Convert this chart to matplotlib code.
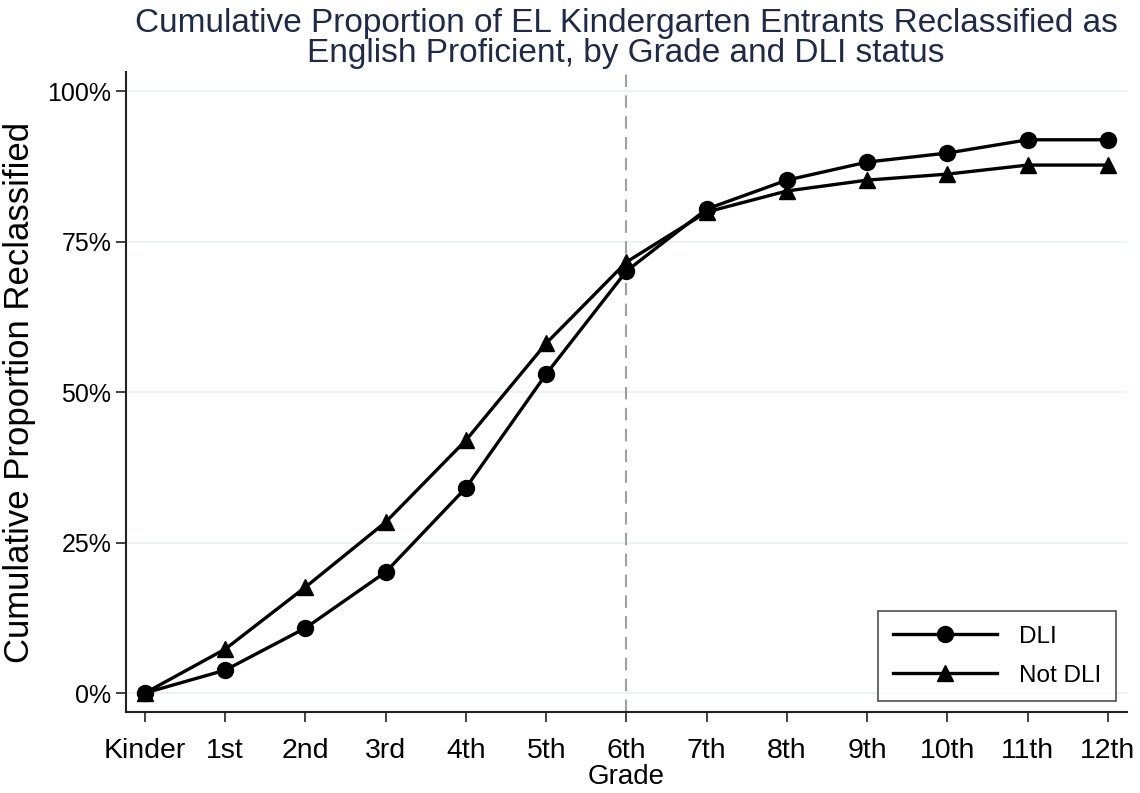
import matplotlib
matplotlib.use("Agg")
import matplotlib.pyplot as plt
from matplotlib.ticker import FuncFormatter

grades = ["Kinder", "1st", "2nd", "3rd", "4th", "5th", "6th", "7th", "8th", "9th", "10th", "11th", "12th"]
dli = [0.0, 3.8, 10.8, 20.1, 34.1, 53.0, 70.1, 80.4, 85.2, 88.2, 89.7, 91.9, 91.9]
not_dli = [0.0, 7.3, 17.6, 28.4, 42.0, 58.1, 71.6, 79.9, 83.4, 85.2, 86.2, 87.7, 87.7]
yticks = [0, 25, 50, 75, 100]

plt.rcParams['font.family'] = ['Liberation Sans', 'DejaVu Sans']

fig = plt.figure(figsize=(11.4, 7.93), dpi=100)
ax = fig.add_axes([0.1105, 0.1021, 0.8781, 0.8071])

x = list(range(len(grades)))
for yv in yticks:
    ax.axhline(yv, color="#eaf0f0", lw=1.2, zorder=0)
ax.axvline(6, color="#a0a0a0", lw=1.5, ls=(0, (6, 4)), zorder=1)

ax.plot(x, dli, color="black", lw=2.4, marker="o", markersize=11.5, label="DLI", zorder=3)
ax.plot(x, not_dli, color="black", lw=2.4, marker="^", markersize=12, label="Not DLI", zorder=3)

ax.set_xlim(-0.237, 12.237)
ax.set_ylim(-3.16, 103.16)
ax.set_xticks(x)
ax.set_xticklabels(grades, fontsize=20.5)
ax.set_yticks(yticks)
ax.yaxis.set_major_formatter(FuncFormatter(lambda v, p: f"{int(v)}%"))
ax.tick_params(axis="y", labelsize=18, length=7, width=1.3, color="#333333")
ax.tick_params(axis="x", length=7, width=1.3, color="#333333", pad=12)

for s in ["top", "right"]:
    ax.spines[s].set_visible(False)
for s in ["left", "bottom"]:
    ax.spines[s].set_linewidth(1.5)
    ax.spines[s].set_color("#222222")

ax.set_xlabel("Grade", fontsize=20, labelpad=0)
ax.set_ylabel("Cumulative Proportion Reclassified", fontsize=25, labelpad=8)

fig.text(626 / 1140, 0.99,
         "Cumulative Proportion of EL Kindergarten Entrants Reclassified as\nEnglish Proficient, by Grade and DLI status",
         fontsize=24, color="#1e2a48", ha="center", va="top", linespacing=0.95)

leg = ax.legend(loc="lower right", fontsize=17.5, frameon=True, fancybox=False,
                edgecolor="#333333", handlelength=4.3, borderpad=0.6, labelspacing=0.7,
                handletextpad=0.9, borderaxespad=0, bbox_to_anchor=(0.989, 0.017))
leg.get_frame().set_linewidth(1.3)

fig.savefig("out.png", dpi=100, facecolor="white")
